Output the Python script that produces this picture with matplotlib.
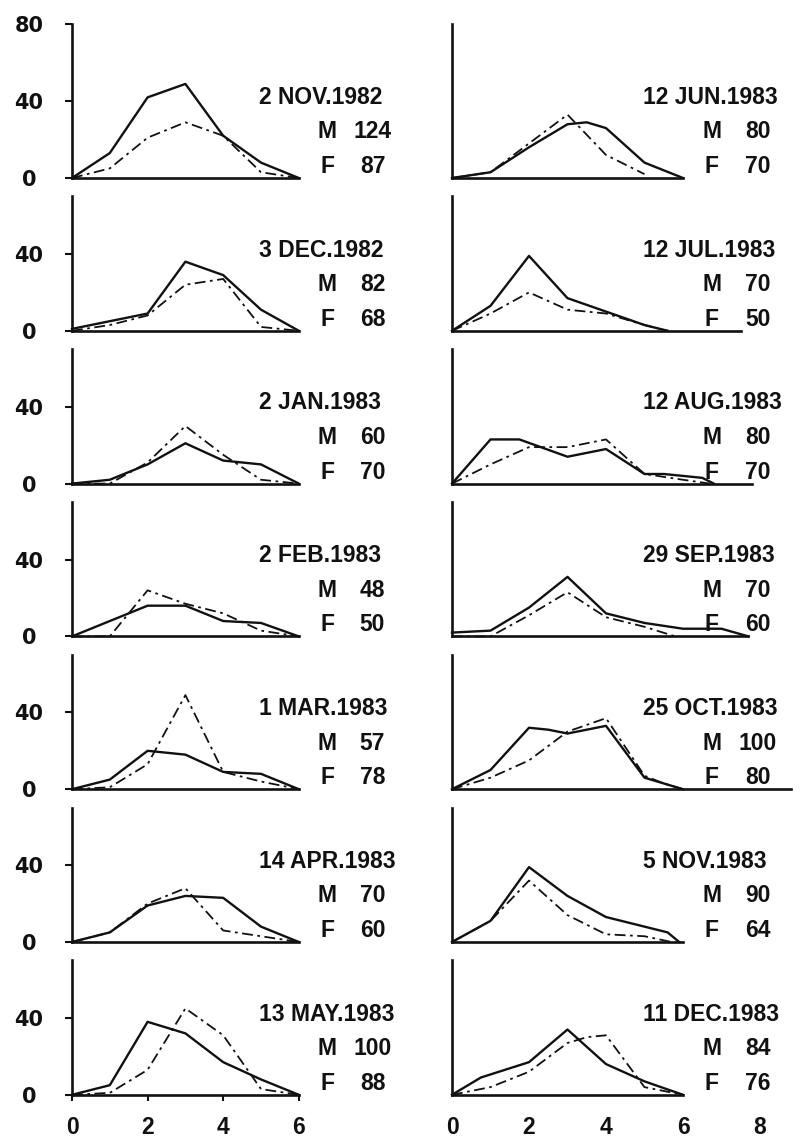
import matplotlib.pyplot as plt

plt.rcParams['font.family'] = ['Liberation Sans', 'DejaVu Sans']

# panels: left column top->bottom, then right column top->bottom
dates = ["2 NOV.1982", "3 DEC.1982", "2 JAN.1983", "2 FEB.1983", "1 MAR.1983",
         "14 APR.1983", "13 MAY.1983",
         "12 JUN.1983", "12 JUL.1983", "12 AUG.1983", "29 SEP.1983",
         "25 OCT.1983", "5 NOV.1983", "11 DEC.1983"]
male_n = [124, 82, 60, 48, 57, 70, 100, 80, 70, 80, 70, 100, 90, 84]
female_n = [87, 68, 70, 50, 78, 60, 88, 70, 50, 70, 60, 80, 64, 76]

x06 = [0, 1, 2, 3, 4, 5, 6]

male_x = [
    x06, x06, x06, x06, x06, x06, x06,
    [0, 1, 2, 3, 3.5, 4, 5, 6],
    [0, 1, 2, 3, 4, 5, 5.6],
    [0, 1, 1.75, 3, 4, 5, 5.5, 6.5, 6.8],
    [0, 1, 2, 3, 4, 5, 6, 7, 7.7],
    [0, 1, 2, 2.5, 3, 4, 5, 5.5, 6],
    [0, 1, 2, 3, 4, 5, 5.6, 5.9],
    [0, 0.75, 2, 3, 4, 5, 6],
]
male_y = [
    [0, 13, 42, 49, 22, 8, 0],
    [1, 5, 9, 36, 29, 11, 0],
    [0, 2, 10, 21, 12, 10, 0],
    [0, 8, 16, 16, 8, 7, 0],
    [0, 5, 20, 18, 9, 8, 0],
    [0, 5, 19, 24, 23, 8, 0],
    [0, 5, 38, 32, 17, 8, 0],
    [0, 3, 16, 28, 29, 26, 8, 0],
    [0, 13, 39, 17, 10, 3, 0],
    [0, 23, 23, 14, 18, 5, 5, 3, 0],
    [2, 3, 15, 31, 12, 7, 4, 4, 0],
    [0, 10, 32, 31, 29, 33, 6, 3, 0],
    [0, 11, 39, 24, 13, 8, 5, 0],
    [0, 9, 17, 34, 16, 7, 0],
]

female_x = [
    x06, x06, x06, x06, x06, x06, x06,
    [0, 1, 2, 3, 4, 5],
    [0, 1, 2, 3, 4, 5, 5.6],
    [0, 1, 2, 3, 4, 5, 6, 6.7],
    [0, 1, 2, 3, 4, 5, 5.8],
    [0, 1, 2, 3, 4, 5, 5.5, 6],
    [0, 1, 2, 3, 4, 5, 5.7],
    [0, 1, 2, 3, 3.5, 4, 5, 6],
]
female_y = [
    [0, 5, 21, 29, 22, 3, 0],
    [0, 3, 8, 24, 27, 2, 0],
    [0, 0, 11, 30, 15, 2, 0],
    [0, 0, 24, 17, 12, 3, 0],
    [0, 1, 13, 49, 9, 4, 0],
    [0, 5, 20, 28, 6, 3, 0],
    [0, 1, 13, 45, 31, 3, 0],
    [0, 3, 18, 33, 12, 2],
    [0, 9, 20, 11, 9, 3, 0],
    [0, 10, 19, 19, 23, 5, 2, 0],
    [0, 0, 11, 23, 10, 5, 0],
    [0, 6, 15, 30, 37, 7, 3, 0],
    [0, 11, 32, 14, 4, 3, 0],
    [0, 4, 12, 27, 30, 31, 4, 0],
]

# how far each panel's x axis line is drawn
xaxis_end = [6, 6, 6, 6, 6, 6, 6, 6, 7.5, 7.8, 7.7, 8.8, 6, 6]

W, H = 805, 1138
INK = "#111111"
FS = 16.5
fig = plt.figure(figsize=(W / 100, H / 100), dpi=100)
fig.patch.set_facecolor("white")

for i in range(14):
    col, row = divmod(i, 7)
    top = 80 if row == 0 else 70
    zero_px = 178 + 152.8 * row
    if col == 0:
        left_px, unit, xmax = 72, 37.8, 6
    else:
        left_px, unit, xmax = 452, 38.5, 9
    ax = fig.add_axes([left_px / W, 1 - zero_px / H, xmax * unit / W, top * 1.92 / H])
    ax.set_xlim(0, xmax)
    ax.set_ylim(0, top)
    ax.patch.set_alpha(0)

    ax.plot(male_x[i], male_y[i], color=INK, lw=1.7, clip_on=False)
    ax.plot(female_x[i], female_y[i], color=INK, lw=1.3, clip_on=False,
            linestyle=(0, (6, 2.5, 1.5, 2.5)))

    for s in ("top", "right"):
        ax.spines[s].set_visible(False)
    ax.spines["left"].set_bounds(0, top)
    ax.spines["bottom"].set_bounds(0, xaxis_end[i])
    for s in ("left", "bottom"):
        ax.spines[s].set_linewidth(1.9)
        ax.spines[s].set_color(INK)

    if col == 0:
        ax.set_yticks([0, 40, 80] if row == 0 else [0, 40])
        ax.tick_params(axis="y", length=5, width=1.5, pad=26, labelsize=15, colors=INK)
        for lab in ax.get_yticklabels():
            lab.set_ha("center")
            lab.set_family("DejaVu Sans")
            lab.set_weight("bold")
    else:
        ax.set_yticks([])

    if row == 6:
        if col == 0:
            ax.set_xticks([0, 2, 4, 6])
            ax.tick_params(axis="x", length=4, width=1.5, pad=11, labelsize=16.5, colors=INK)
        else:
            ax.set_xticks([0, 2, 4, 6, 8])
            ax.tick_params(axis="x", length=0, pad=15, labelsize=16.5, colors=INK)
        for lab in ax.get_xticklabels():
            lab.set_weight("bold")
    else:
        ax.set_xticks([])

    ax.text(4.95, 42, dates[i], fontsize=FS, fontweight="bold", ha="left", va="center", color=INK)
    ax.text(6.75, 24, "M", fontsize=FS, fontweight="bold", ha="center", va="center", color=INK)
    ax.text(7.95, 24, str(male_n[i]), fontsize=FS, fontweight="bold", ha="center", va="center", color=INK)
    ax.text(6.75, 6, "F", fontsize=FS, fontweight="bold", ha="center", va="center", color=INK)
    ax.text(7.95, 6, str(female_n[i]), fontsize=FS, fontweight="bold", ha="center", va="center", color=INK)

fig.savefig("out.png", dpi=100)
